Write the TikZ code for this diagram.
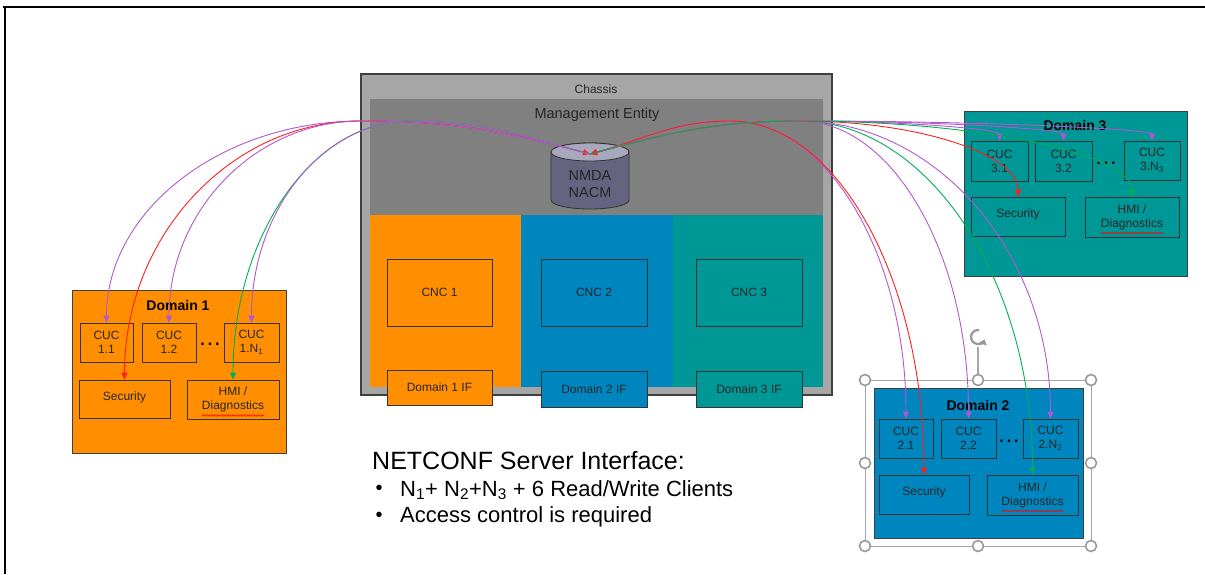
\documentclass[tikz,border=0pt]{standalone}
\usepackage{fontspec}
\setmainfont{Liberation Sans}
\usetikzlibrary{arrows.meta,positioning,shapes.geometric,decorations.pathmorphing}

\definecolor{dorange}{RGB}{255,143,0}
\definecolor{dblue}{RGB}{0,134,190}
\definecolor{dteal}{RGB}{0,151,151}
\definecolor{chassisgray}{RGB}{166,166,166}
\definecolor{megray}{RGB}{128,128,128}
\definecolor{cylbody}{RGB}{100,100,128}
\definecolor{cyltop}{RGB}{168,168,188}
\definecolor{lilac}{RGB}{178,88,206}
\definecolor{hmigreen}{RGB}{0,176,80}
\definecolor{secred}{RGB}{255,30,30}

\tikzset{
  sz/.style 2 args={minimum width=#1pt, minimum height=#2pt},
  plain/.style={inner sep=0pt, text=black!85, font=\fontsize{12}{14}\selectfont},
  inbox/.style={draw=black!80, line width=0.7pt, inner sep=0pt, align=center,
    text=black!85, font=\fontsize{12}{14}\selectfont},
  domainbox/.style={draw=black!75, line width=1pt, inner sep=0pt},
  domlabel/.style={inner sep=0pt, font=\bfseries\fontsize{14}{16}\selectfont},
  dotsnode/.style={inner sep=0pt, font=\bfseries\fontsize{16}{16}\selectfont},
  cucline/.style={draw=lilac, line width=0.9pt, ->},
  secline/.style={draw=secred, line width=0.9pt, <->},
  hmiline/.style={draw=hmigreen, line width=0.9pt, ->},
  larc/.style 2 args={out=180, in=90, out distance=#1pt, in distance=#2pt},
  rarc/.style 2 args={out=0, in=90, out distance=#1pt, in distance=#2pt},
  squig/.style={draw=red, line width=0.5pt, decorate,
    decoration={snake, amplitude=0.8pt, segment length=2.5pt}},
  handle/.style={draw=black!40, line width=1.6pt, fill=white},
}

\newcommand{\cucdots}{.\hspace{3pt}.\hspace{3pt}.}

\begin{document}
\begin{tikzpicture}[x=1pt, y=1pt, >={Triangle[length=7pt,width=6pt]}]
  \useasboundingbox (0,0) rectangle (1205,-574);

  % slide frame
  \draw[line width=1.6pt] (3,-7) -- (1205,-7);
  \draw[line width=1.6pt] (5,-7) -- (5,-574);

  % chassis with management entity
  \node[domainbox, fill=chassisgray, draw=black!75, line width=1.3pt, sz={471}{321}] (chassis) at (596.5,-234.5) {};
  \node[plain] (chassislbl) at (596,-89) {Chassis};
  \node[fill=megray, inner sep=0pt, sz={453}{116}] (mgmt) at (596.5,-157) {};
  \node[plain, font=\fontsize{14.5}{16}\selectfont] (mgmtlbl) at (597,-115) {Management Entity};
  % NMDA / NACM data store
  \draw[draw=black!80, fill=cylbody, line width=0.8pt] (551,-152) -- (551,-200)
    arc[start angle=180, end angle=360, x radius=39, y radius=9] -- (629,-152)
    arc[start angle=0, end angle=180, x radius=39, y radius=9] -- cycle;
  \draw[draw=black!80, fill=cyltop, line width=0.8pt] (590,-152) ellipse[x radius=39, y radius=9];
  \node[plain, align=center, font=\fontsize{14.5}{17}\selectfont] (nmda) at (590,-184) {NMDA\\NACM};

  % one column per domain
  \node[fill=dorange, inner sep=0pt, sz={151}{172}] (col1) at (445.5,-301) {};
  \node[fill=dblue, inner sep=0pt, sz={152}{172}] (col2) at (597,-301) {};
  \node[fill=dteal, inner sep=0pt, sz={150}{172}] (col3) at (748,-301) {};
  \node[inbox, fill=dorange, sz={105}{67}] (cnc1) at (439.5,-292.5) {CNC 1};
  \node[inbox, fill=dblue, sz={106}{67}] (cnc2) at (594,-292.5) {CNC 2};
  \node[inbox, fill=dteal, sz={106}{67}] (cnc3) at (749,-292.5) {CNC 3};
  \node[inbox, fill=dorange, sz={105}{35}] (if1) at (439.5,-387.5) {Domain 1 IF};
  \node[inbox, fill=dblue, sz={106}{36}] (if2) at (594,-389) {Domain 2 IF};
  \node[inbox, fill=dteal, sz={106}{36}] (if3) at (749,-389) {Domain 3 IF};

  % Domain 1
  \node[domainbox, fill=dorange, sz={214}{163}] (dom1) at (179,-371.5) {};
  \node[domlabel] (dom1lbl) at (178,-305) {Domain 1};
  \node[inbox, sz={53}{39}] (cuc11) at (106.5,-342.5) {CUC\\1.1};
  \node[inbox, sz={54}{39}] (cuc12) at (169,-342.5) {CUC\\1.2};
  \node[inbox, sz={55}{39}] (cuc1n) at (251.5,-342.5) {CUC\\1.N\textsubscript{1}};
  \node[dotsnode] (dots1) at (210,-344) {\cucdots};
  \node[inbox, sz={91}{38}] (sec1) at (124.5,-399) {\raisebox{6pt}{Security}};
  \node[inbox, sz={92}{39}] (hmi1) at (233,-399.5) {HMI /\\Diagnostics};

  % Domain 3
  \node[domainbox, fill=dteal, sz={223}{165}] (dom3) at (1075.5,-193.5) {};
  \node[domlabel] (dom3lbl) at (1075,-126) {Domain 3};
  \node[inbox, sz={57}{40}] (cuc31) at (999.5,-161) {CUC\\3.1};
  \node[inbox, sz={57}{40}] (cuc32) at (1063.5,-161) {CUC\\3.2};
  \node[inbox, sz={56}{39}] (cuc3n) at (1152,-160.5) {CUC\\3.N\textsubscript{3}};
  \node[dotsnode] (dots3) at (1106,-163) {\cucdots};
  \node[inbox, sz={94}{39}] (sec3) at (1018,-216.5) {\raisebox{6pt}{Security}};
  \node[inbox, sz={94}{40}] (hmi3) at (1132,-217) {HMI /\\Diagnostics};

  % selection handles round Domain 2
  \draw[draw=black!35, line width=0.8pt] (865,-380) rectangle (1091,-546);
  \draw[draw=black!35, line width=1.2pt] (978,-380) -- (978,-347);
  \draw[draw=black!40, line width=2.2pt, -{Triangle[length=5pt,width=8pt]}]
    ([shift={(80:7)}]978,-337) arc[start angle=80, end angle=340, radius=7];
  \foreach \p in {(865,-380),(978,-380),(1091,-380),(865,-463),(1091,-463),(865,-546),(978,-546),(1091,-546)}
    \draw[handle] \p circle[radius=5.5];

  % Domain 2
  \node[domainbox, fill=dblue, sz={209}{150}] (dom2) at (978.5,-463) {};
  \node[domlabel] (dom2lbl) at (978,-405) {Domain 2};
  \node[inbox, sz={54}{39}] (cuc21) at (906,-438.5) {CUC\\2.1};
  \node[inbox, sz={55}{39}] (cuc22) at (968.5,-438.5) {CUC\\2.2};
  \node[inbox, sz={55}{39}] (cuc2n) at (1050.5,-438.5) {CUC\\2.N\textsubscript{2}};
  \node[dotsnode] (dots2) at (1009,-441) {\cucdots};
  \node[inbox, sz={90}{39}] (sec2) at (924,-494.5) {\raisebox{6pt}{Security}};
  \node[inbox, sz={91}{40}] (hmi2) at (1032.5,-495) {HMI /\\Diagnostics};

  % spell check marks
  \foreach \h in {hmi1,hmi2,hmi3}
    \draw[squig] ([shift={(-31,-16)}]\h.center) -- ([shift={(31,-16)}]\h.center);

  % NETCONF text
  \node[inner sep=0pt, anchor=west, font=\fontsize{25}{28}\selectfont] (netconf) at (372,-461) {NETCONF Server Interface:};
  \node[inner sep=0pt, font=\fontsize{20}{20}\selectfont] (bul1) at (379,-490) {•};
  \node[inner sep=0pt, font=\fontsize{20}{20}\selectfont] (bul2) at (379,-517) {•};
  \node[inner sep=0pt, anchor=west, font=\fontsize{22}{26}\selectfont] (item1) at (400,-490)
    {N\textsubscript{1}+ N\textsubscript{2}+N\textsubscript{3} + 6 Read/Write Clients};
  \node[inner sep=0pt, anchor=west, font=\fontsize{22}{26}\selectfont] (item2) at (400,-517) {Access control is required};

  % way points of the connectors
  \coordinate (hub) at (590,-154);
  \coordinate (wl) at (361,-121);
  \coordinate (wl2) at (410,-121);
  \coordinate (wr) at (730,-121);
  \coordinate (wr2) at (800,-121);

  % connectors to Domain 1
  \draw[cucline] (hub) to[out=165,in=0] (wl) to[larc={140}{112}] (cuc11.north);
  \draw[secline] (hub) to[out=165,in=0] (wl) to[larc={131}{143}] (sec1.north);
  \draw[cucline] (hub) to[out=165,in=0] (wl) to[larc={106}{112}] (cuc12.north);
  \draw[hmiline] (hub) to[out=165,in=0] (wl2) to[larc={98}{143}] (hmi1.north);
  \draw[cucline] (hub) to[out=165,in=0] (wl2) to[larc={87}{112}] (cuc1n.north);

  % connectors to Domain 2
  \draw[cucline] (hub) to[out=15,in=180] (wr) to[rarc={97}{164}] (cuc21.north);
  \draw[secline] (hub) to[out=15,in=180] (wr) to[rarc={107}{195}] (sec2.north);
  \draw[cucline] (hub) to[out=15,in=180] (wr2) to[rarc={93}{164}] (cuc22.north);
  \draw[hmiline] (hub) to[out=15,in=180] (wr2) to[rarc={128}{195}] (hmi2.north);
  \draw[cucline] (hub) to[out=15,in=180] (wr2) to[rarc={138}{164}] (cuc2n.north);

  % connectors to Domain 3
  \draw[cucline] (hub) to[out=15,in=180] (wr2) to[rarc={110}{11}] (cuc31.north);
  \draw[cucline] (hub) to[out=15,in=180] (wr2) to[rarc={145}{11}] (cuc32.north);
  \draw[cucline] (hub) to[out=15,in=180] (wr2) to[rarc={194}{11}] (cuc3n.north);
  \draw[secline] (hub) to[out=15,in=180] (wr2) to[rarc={120}{42}] (sec3.north);
  \draw[hmiline] (hub) to[out=15,in=180] (wr2) to[rarc={183}{42}] (hmi3.north);
\end{tikzpicture}
\end{document}
